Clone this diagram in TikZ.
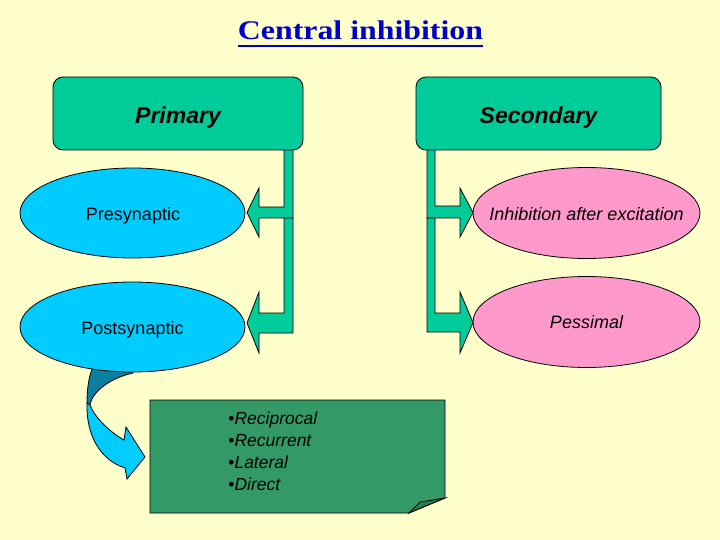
\documentclass[tikz,border=0pt]{standalone}
\usepackage{fontspec}
\usepackage{graphicx}
\setmainfont{Liberation Sans}
\newfontfamily\titlefont{Liberation Serif}
\usetikzlibrary{shapes.geometric,calc}
\definecolor{bg}{HTML}{FFFFCC}
\definecolor{boxgreen}{HTML}{00CC99}
\definecolor{cyanfill}{HTML}{00CCFF}
\definecolor{darkteal}{HTML}{0A7FA0}
\definecolor{pinkfill}{HTML}{FF99CC}
\definecolor{notegreen}{HTML}{339966}
\definecolor{folddark}{HTML}{2A7A50}
\definecolor{titleblue}{HTML}{0000CC}
\tikzset{
  headbox/.style={draw=black, fill=boxgreen, rounded corners=10pt, minimum width=250pt, minimum height=73pt, inner sep=0pt},
  headtext/.style={inner sep=0pt, font=\bfseries\itshape\fontsize{23}{27}\selectfont},
  cyanell/.style={draw=black, fill=cyanfill, ellipse, minimum width=225pt, minimum height=90pt, inner sep=0pt},
  pinkell/.style={draw=black, fill=pinkfill, ellipse, minimum width=227pt, minimum height=91pt, inner sep=0pt},
  elltext/.style={inner sep=0pt, font=\fontsize{18}{21}\selectfont},
  bentarrow/.style={draw=black, fill=boxgreen, line width=0.8pt, line join=miter},
}
\begin{document}
\begin{tikzpicture}[x=1pt,y=-1pt,line width=0.8pt]
\fill[bg] (0,0) rectangle (720,540);
\useasboundingbox (0,0) rectangle (720,540);

% title
\node[font=\titlefont\bfseries\fontsize{27}{30}\selectfont, text=titleblue, anchor=base, inner sep=0pt] (title) at (360.5,39.5) {\scalebox{1.18}[1]{Central inhibition}};
\draw[titleblue, line width=2pt] ($(title.base west)+(0,6.5)$) -- ($(title.base east)+(0,6.5)$);

% bent arrows left
\draw[bentarrow] (284,148) -- (284,207) -- (259,207) -- (259,188) -- (247,212.5) -- (259,237) -- (259,218) -- (293,218) -- (293,148) -- cycle;
\draw[bentarrow] (284,218) -- (284,313) -- (259,313) -- (259,292) -- (247,323) -- (259,353) -- (259,333) -- (293,333) -- (293,218) -- cycle;
% bent arrows right
\draw[bentarrow] (435,148) -- (435,206) -- (460,206) -- (460,188) -- (473,212.5) -- (460,237) -- (460,218) -- (427,218) -- (427,148) -- cycle;
\draw[bentarrow] (435,218) -- (435,313) -- (460,313) -- (460,292) -- (473,322.5) -- (460,353) -- (460,332) -- (427,332) -- (427,218) -- cycle;

% header boxes
\node[headbox] (primary) at (178,113.5) {};
\node[headtext, anchor=base] (primarytext) at (178,124) {Primary};
\node[headbox, minimum width=245pt] (secondary) at (538.5,113.5) {};
\node[headtext, anchor=base] (secondarytext) at (538.5,124) {Secondary};

% curved arrow (drawn before the ellipse)
\draw[fill=darkteal] (93,362) -- (92,369) .. controls (88,380) and (87,392) .. (87,403) -- (90,405) .. controls (92,392) and (110,378) .. (133,373) -- (133,362) -- cycle;
\draw[fill=cyanfill, line join=miter] (87,403) .. controls (86,435) and (100,460) .. (125,468) -- (127,479) -- (145,457) -- (126,427) -- (124,440) .. controls (110,432) and (95,418) .. (90,405) -- cycle;

% ellipses
\node[cyanell] (pre) at (132.5,213) {};
\node[elltext, anchor=base] (pretext) at (133,221) {Presynaptic};
\node[cyanell] (post) at (132.5,327) {};
\node[elltext, anchor=base] (posttext) at (132.5,334) {Postsynaptic};
\node[pinkell] (inhib) at (586.5,213) {};
\node[elltext, anchor=base, font=\itshape\fontsize{18}{21}\selectfont] (inhibtext) at (586.5,221) {Inhibition after excitation};
\node[pinkell] (pess) at (586.5,322) {};
\node[elltext, anchor=base, font=\itshape\fontsize{18}{21}\selectfont] (pesstext) at (586.5,328) {Pessimal};

% note
\draw[fill=notegreen] (150,400) -- (445,400) -- (445,498) -- (409,513) -- (150,513) -- cycle;
\draw[fill=folddark] (409,513) -- (445,498) -- (420,502) -- cycle;
\node[anchor=north west, align=left, inner sep=0pt, font=\fontsize{17.5}{22}\selectfont] (list) at (228,411)
  {•\textit{Reciprocal}\\•\textit{Recurrent}\\•\textit{Lateral}\\•\textit{Direct}};
\end{tikzpicture}
\end{document}
